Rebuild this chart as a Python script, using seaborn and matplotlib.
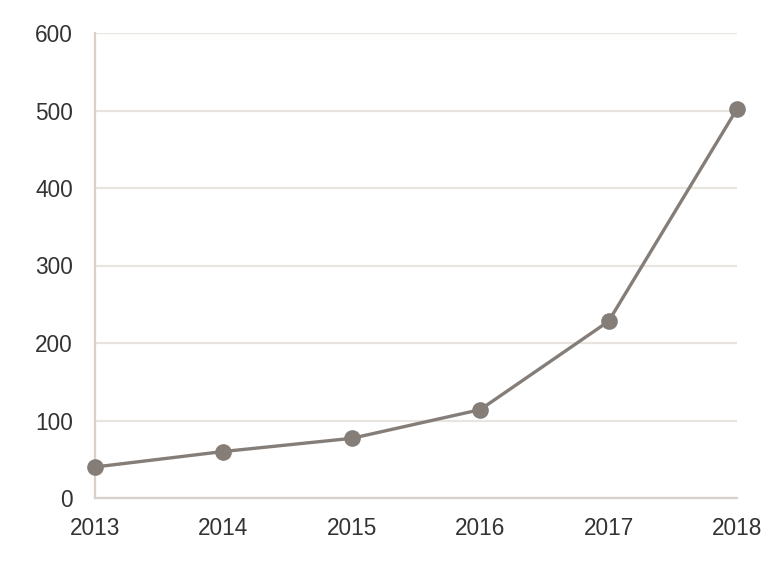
import matplotlib
matplotlib.use("Agg")
import matplotlib.pyplot as plt
import seaborn as sns
import pandas as pd

years = [2013, 2014, 2015, 2016, 2017, 2018]
values = [40, 60, 77, 114, 228, 502]
yticks = [0, 100, 200, 300, 400, 500, 600]

sns.set_theme(style="white")
plt.rcParams['font.family'] = ['Liberation Sans', 'DejaVu Sans']

fig = plt.figure(figsize=(7.72, 5.79), dpi=100)
ax = fig.add_axes([95/772, 81/579, (737-95)/772, (498-33)/579])

df = pd.DataFrame({"year": years, "value": values})
line_color = "#857d78"
sns.lineplot(data=df, x="year", y="value", ax=ax, color=line_color, linewidth=2.4,
             marker="o", markersize=12, markeredgewidth=0, markerfacecolor=line_color,
             clip_on=False, zorder=5)

ax.set_xlim(2013, 2018)
ax.set_ylim(0, 600)
ax.set_xticks(years)
ax.set_xticklabels([str(y) for y in years])
ax.set_yticks(yticks)
ax.set_yticklabels([str(t) for t in yticks])
ax.yaxis.grid(True, color="#e8e4df", linewidth=1.6)
ax.xaxis.grid(False)
ax.set_axisbelow(True)
for s in ["top", "right"]:
    ax.spines[s].set_visible(False)
for s in ["left", "bottom"]:
    ax.spines[s].set_color("#d9d1ca")
    ax.spines[s].set_linewidth(1.6)
ax.tick_params(axis="both", length=0, labelsize=16.3, colors="#333333")
ax.tick_params(axis="y", pad=16)
ax.tick_params(axis="x", pad=14)
ax.set_xlabel("")
ax.set_ylabel("")

fig.savefig("out.png", dpi=100, facecolor="white")
